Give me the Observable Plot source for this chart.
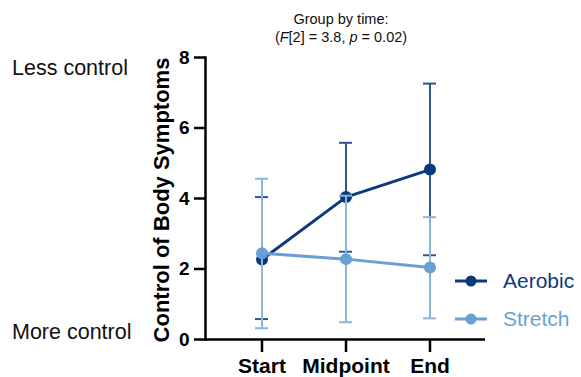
<!DOCTYPE html>
<html>
<head>
<meta charset="utf-8">
<script src="https://cdn.jsdelivr.net/npm/d3@7"></script>
<script src="https://cdn.jsdelivr.net/npm/@observablehq/plot@0.6"></script>
<style>
  body { margin: 0; background: #fff; }
  #wrap { position: relative; width: 581px; height: 377px; font-family: "Liberation Sans", Arial, sans-serif; }
  #wrap > svg { position: absolute; left: 0; top: 0; }
</style>
</head>
<body>
<div id="wrap"></div>
<script>
// ---- data ----
const times = ["Start", "Midpoint", "End"];
const aerobicMean = [2.27, 4.04, 4.82];
const aerobicLow = [0.58, 2.49, 2.39];
const aerobicHigh = [4.04, 5.58, 7.26];
const stretchMean = [2.45, 2.28, 2.04];
const stretchLow = [0.32, 0.49, 0.6];
const stretchHigh = [4.56, 4.08, 3.47];
const yTicks = [0, 2, 4, 6, 8];
const groups = ["Aerobic", "Stretch"];

const aerobicColor = "#0b3a7c";
const aerobicBarColor = "#2c5792";
const stretchColor = "#6a9fd3";
const stretchBarColor = "#8ab5de";

const aerobic = times.map((t, i) => ({time: t, mean: aerobicMean[i], low: aerobicLow[i], high: aerobicHigh[i]}));
const stretch = times.map((t, i) => ({time: t, mean: stretchMean[i], low: stretchLow[i], high: stretchHigh[i]}));

function groupMarks(data, color, barColor) {
  return [
    Plot.ruleX(data, {x: "time", y1: "low", y2: "high", stroke: barColor, strokeWidth: 2}),
    Plot.tickY(data, {x: "time", y: "low", stroke: barColor, strokeWidth: 2}),
    Plot.tickY(data, {x: "time", y: "high", stroke: barColor, strokeWidth: 2}),
    Plot.line(data, {x: "time", y: "mean", stroke: color, strokeWidth: 3}),
    Plot.dot(data, {x: "time", y: "mean", r: 6, fill: color, stroke: "none"})
  ];
}

const chart = Plot.plot({
  width: 581,
  height: 377,
  marginLeft: 205,
  marginRight: 96,
  marginTop: 57,
  marginBottom: 38,
  style: {fontFamily: '"Liberation Sans", Arial, sans-serif', background: "transparent", color: "#000", overflow: "visible"},
  x: {type: "band", domain: times, range: [254.5, 436.5], paddingInner: 0.846, paddingOuter: 0, label: null},
  y: {domain: [0, 8], label: null},
  marks: [
    Plot.axisY({ticks: yTicks, tickSize: 11, tickPadding: 5, strokeWidth: 2.5, fontSize: 19, fontWeight: "bold", label: null}),
    Plot.axisX({tickSize: 13, tickPadding: 6, strokeWidth: 2.5, fontSize: 21, fontWeight: "bold", label: null}),
    Plot.ruleY([0], {strokeWidth: 2.5}),
    Plot.frame({anchor: "left", strokeWidth: 2.5}),
    ...groupMarks(aerobic, aerobicColor, aerobicBarColor),
    ...groupMarks(stretch, stretchColor, stretchBarColor)
  ]
});

const wrap = document.getElementById("wrap");
wrap.appendChild(chart);

// ---- annotations, title, legend (overlay text) ----
const ns = "http://www.w3.org/2000/svg";
const ov = document.createElementNS(ns, "svg");
ov.setAttribute("width", 581);
ov.setAttribute("height", 377);
ov.setAttribute("font-family", '"Liberation Sans", Arial, sans-serif');
ov.innerHTML = `
  <text x="341" y="24" text-anchor="middle" font-size="14.5" fill="#111">Group by time:</text>
  <text x="341" y="42" text-anchor="middle" font-size="14.5" fill="#111">(<tspan font-style="italic">F</tspan>[2] = 3.8, <tspan font-style="italic">p</tspan> = 0.02)</text>
  <text x="12" y="75" font-size="21.5" fill="#111">Less control</text>
  <text x="12" y="339" font-size="21.5" fill="#111">More control</text>
  <text transform="translate(169,200) rotate(-90)" text-anchor="middle" font-size="22" font-weight="bold" fill="#000">Control of Body Symptoms</text>
  <g>
    <line x1="455" x2="487" y1="281" y2="281" stroke="${aerobicColor}" stroke-width="3"/>
    <circle cx="471" cy="281" r="5.5" fill="${aerobicColor}"/>
    <text x="503" y="288" font-size="21" fill="${aerobicColor}">${groups[0]}</text>
    <line x1="455" x2="487" y1="319" y2="319" stroke="${stretchColor}" stroke-width="3"/>
    <circle cx="471" cy="319" r="5.5" fill="${stretchColor}"/>
    <text x="503" y="326" font-size="21" fill="${stretchColor}">${groups[1]}</text>
  </g>`;
wrap.appendChild(ov);
</script>
</body>
</html>
